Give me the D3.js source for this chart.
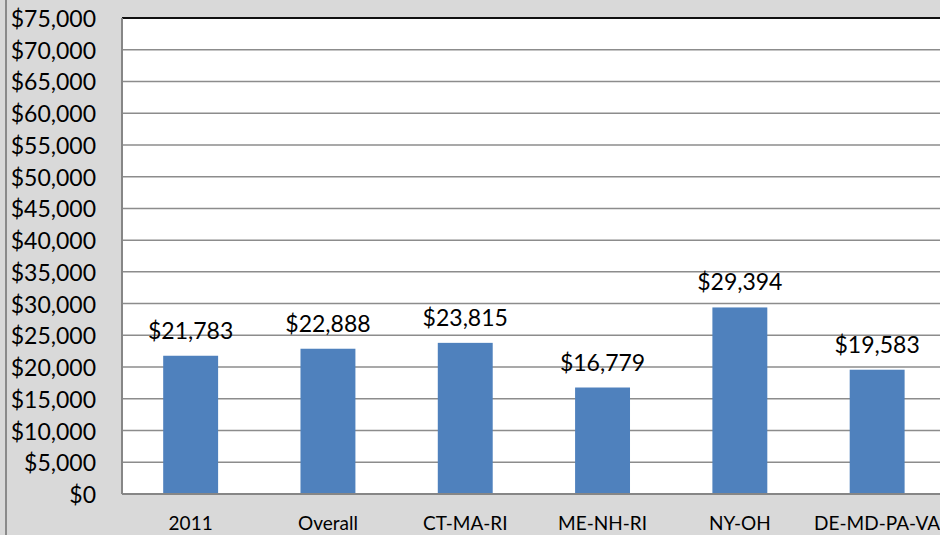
<!DOCTYPE html>
<html>
<head>
<meta charset="utf-8">
<script src="https://cdn.jsdelivr.net/npm/d3@7"></script>
<style>
  html, body { margin: 0; padding: 0; background: #d9d9d9; overflow: hidden; }
  svg { display: block; }
</style>
</head>
<body>
<svg width="940" height="535"></svg>
<script>
const categories = ["2011", "Overall", "CT-MA-RI", "ME-NH-RI", "NY-OH", "DE-MD-PA-VA"];
const values = [21783, 22888, 23815, 16779, 29394, 19583];
const yTicks = d3.range(0, 75001, 5000);

const svg = d3.select("svg");
const width = 940;
const height = 535;
const margin = { top: 18, left: 122, bottom: 494 };
const plotRight = 122 + 6 * 137.3;

const fmt = d3.format("$,");

// background + outer chart border
svg.append("rect")
    .attr("width", width)
    .attr("height", height)
    .attr("fill", "#d9d9d9");
svg.append("line")
    .attr("x1", 6).attr("x2", 6)
    .attr("y1", 0).attr("y2", height)
    .attr("stroke", "#8a8a8a")
    .attr("stroke-width", 2);

const x = d3.scaleBand()
    .domain(categories)
    .range([margin.left, plotRight])
    .paddingInner(0.6)
    .paddingOuter(0.3);

const y = d3.scaleLinear()
    .domain([0, 75000])
    .range([margin.bottom, margin.top]);

// plot area
svg.append("rect")
    .attr("x", margin.left)
    .attr("y", margin.top)
    .attr("width", plotRight - margin.left)
    .attr("height", margin.bottom - margin.top)
    .attr("fill", "white");

// gridlines
svg.append("g")
    .selectAll("line")
    .data(yTicks.filter(d => d > 0 && d < 75000))
    .join("line")
    .attr("x1", margin.left)
    .attr("x2", plotRight)
    .attr("y1", d => y(d))
    .attr("y2", d => y(d))
    .attr("stroke", "#8c8c8c")
    .attr("stroke-width", 1.5);

// top border
svg.append("line")
    .attr("x1", margin.left).attr("x2", plotRight)
    .attr("y1", y(75000)).attr("y2", y(75000))
    .attr("stroke", "#111")
    .attr("stroke-width", 2);

// bars
svg.append("g")
    .selectAll("rect")
    .data(values)
    .join("rect")
    .attr("x", (d, i) => x(categories[i]))
    .attr("y", d => y(d))
    .attr("width", x.bandwidth())
    .attr("height", d => y(0) - y(d))
    .attr("fill", "#4f81bd");

// axes lines
svg.append("line")
    .attr("x1", margin.left).attr("x2", margin.left)
    .attr("y1", margin.top).attr("y2", margin.bottom)
    .attr("stroke", "#868686")
    .attr("stroke-width", 2);
svg.append("line")
    .attr("x1", margin.left).attr("x2", plotRight)
    .attr("y1", margin.bottom).attr("y2", margin.bottom)
    .attr("stroke", "#868686")
    .attr("stroke-width", 2);

// y tick labels
svg.append("g")
    .selectAll("text")
    .data(yTicks)
    .join("text")
    .attr("x", 96)
    .attr("y", d => y(d))
    .attr("text-anchor", "end")
    .attr("dominant-baseline", "central")
    .attr("font-family", "Lato, 'Open Sans', sans-serif")
    .attr("font-size", 23)
    .attr("fill", "#000")
    .text(d => fmt(d));

// data labels
svg.append("g")
    .selectAll("text")
    .data(values)
    .join("text")
    .attr("x", (d, i) => x(categories[i]) + x.bandwidth() / 2)
    .attr("y", d => y(d) - 17)
    .attr("text-anchor", "middle")
    .attr("font-family", "Lato, 'Open Sans', sans-serif")
    .attr("font-size", 23)
    .attr("fill", "#000")
    .text(d => fmt(d));

// category labels
svg.append("g")
    .selectAll("text")
    .data(categories)
    .join("text")
    .attr("x", d => x(d) + x.bandwidth() / 2)
    .attr("y", 530)
    .attr("text-anchor", "middle")
    .attr("font-family", "Lato, 'Open Sans', sans-serif")
    .attr("font-size", 19)
    .attr("fill", "#000")
    .text(d => d);
</script>
</body>
</html>
